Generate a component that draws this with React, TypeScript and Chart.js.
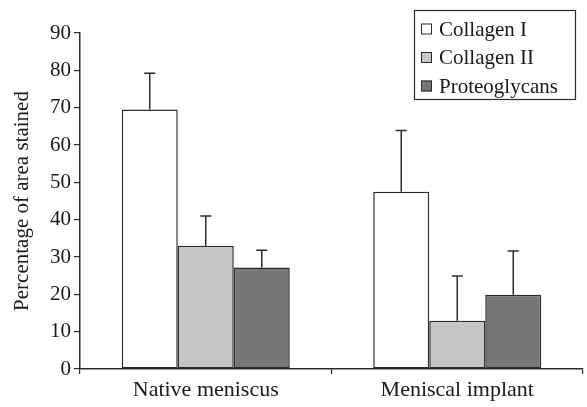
import React, { useEffect, useRef } from "react";
import { Chart, registerables } from "chart.js";

Chart.register(...registerables);

const categories = ["Native meniscus", "Meniscal implant"];
const seriesNames = ["Collagen I", "Collagen II", "Proteoglycans"];
const collagenI = [69.5, 47.5];
const collagenIErr = [9.7, 16.4];
const collagenII = [33.0, 12.9];
const collagenIIErr = [8.0, 12.0];
const proteoglycans = [27.2, 19.9];
const proteoglycansErr = [4.6, 11.7];
const yTicks = [0, 10, 20, 30, 40, 50, 60, 70, 80, 90];

const colors = ["#ffffff", "#c6c6c6", "#777777"];
const INK = "#2b2b2b";
const FONT = "'Liberation Serif', 'DejaVu Serif', serif";

const errorBarPlugin = {
  id: "errorBars",
  afterDatasetsDraw(chart: any) {
    const ctx = chart.ctx;
    const yScale = chart.scales.y;
    ctx.save();
    ctx.strokeStyle = INK;
    ctx.lineWidth = 1.5;
    chart.data.datasets.forEach((ds: any, i: number) => {
      const meta = chart.getDatasetMeta(i);
      meta.data.forEach((el: any, j: number) => {
        const v = ds.data[j] + ds.errors[j];
        const top = yScale.getPixelForValue(v);
        ctx.beginPath();
        ctx.moveTo(el.x, el.y);
        ctx.lineTo(el.x, top);
        ctx.moveTo(el.x - 5.5, top);
        ctx.lineTo(el.x + 5.5, top);
        ctx.stroke();
      });
    });
    ctx.restore();
  },
};

const boxLegendPlugin = {
  id: "boxLegend",
  afterDraw(chart: any) {
    const ctx = chart.ctx;
    const x0 = 414, y0 = 10, w = 161, h = 89;
    ctx.save();
    ctx.fillStyle = "#ffffff";
    ctx.fillRect(x0, y0, w, h);
    ctx.strokeStyle = INK;
    ctx.lineWidth = 1.2;
    ctx.strokeRect(x0 + 0.5, y0 + 0.5, w, h);
    ctx.font = `21px ${FONT}`;
    ctx.textBaseline = "middle";
    chart.data.datasets.forEach((ds: any, i: number) => {
      const cy = y0 + 19 + i * 28.5;
      ctx.fillStyle = ds.backgroundColor;
      ctx.fillRect(x0 + 7, cy - 5.5, 11, 11);
      ctx.strokeStyle = INK;
      ctx.lineWidth = 1;
      ctx.strokeRect(x0 + 7.5, cy - 5, 10, 10);
      ctx.fillStyle = "#1a1a1a";
      ctx.fillText(ds.label, x0 + 25, cy + 1);
    });
    ctx.restore();
  },
};

export default function App() {
  const ref = useRef<HTMLCanvasElement>(null);
  useEffect(() => {
    document.body.style.margin = "0";
    const values = [collagenI, collagenII, proteoglycans];
    const errs = [collagenIErr, collagenIIErr, proteoglycansErr];
    const chart = new Chart(ref.current!, {
      type: "bar",
      data: {
        labels: categories,
        datasets: seriesNames.map((name, i) => ({
          label: name,
          data: values[i],
          errors: errs[i],
          backgroundColor: colors[i],
          borderColor: INK,
          borderWidth: 1.5,
          borderSkipped: false,
          categoryPercentage: 0.668,
          barPercentage: 1.0,
        })) as any,
      },
      options: {
        animation: false,
        responsive: false,
        layout: { padding: { left: 0, top: 33, right: 4, bottom: 0 } },
        plugins: { legend: { display: false }, tooltip: { enabled: false } },
        scales: {
          x: {
            grid: {
              display: true,
              drawOnChartArea: false,
              offset: true,
              tickLength: 5,
              color: INK,
              lineWidth: 1.2,
            },
            border: { display: true, color: INK, width: 1.5 },
            ticks: { color: "#1a1a1a", font: { family: FONT, size: 22 }, padding: 3 },
            afterFit(scale: any) {
              scale.height = 38;
            },
          },
          y: {
            min: 0,
            max: 90,
            afterBuildTicks(scale: any) {
              scale.ticks = yTicks.map((v) => ({ value: v }));
            },
            grid: {
              display: true,
              drawOnChartArea: false,
              tickLength: 6,
              color: INK,
              lineWidth: 1.2,
            },
            border: { display: true, color: INK, width: 1.5 },
            ticks: { color: "#1a1a1a", font: { family: FONT, size: 21 }, padding: 3 },
            title: {
              display: true,
              text: "Percentage of area stained",
              color: "#1a1a1a",
              font: { family: FONT, size: 21 },
              padding: { top: 10, bottom: 4 },
            },
            afterFit(scale: any) {
              scale.width = 80;
            },
          },
        },
      },
      plugins: [errorBarPlugin, boxLegendPlugin],
    });
    return () => chart.destroy();
  }, []);
  return (
    <div style={{ width: 587, height: 407 }}>
      <canvas ref={ref} width={587} height={407} style={{ display: "block" }} />
    </div>
  );
}
